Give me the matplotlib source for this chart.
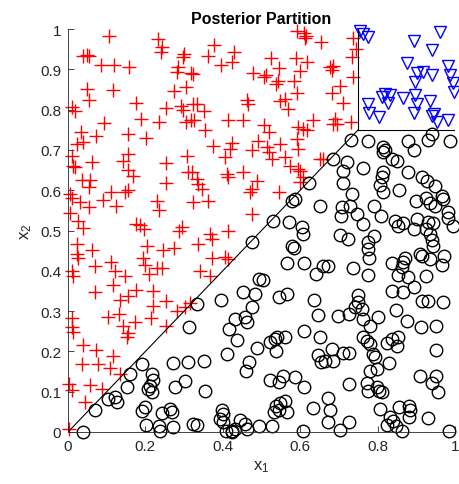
import numpy as np
from matplotlib import pyplot as plt

# red "+" points (region x2 > x1)
cross_x = [0.106, 0.232, 0.244, 0.240, 0.040, 0.048, 0.055, 0.300, 0.298, 0.085, 0.120, 0.158, 0.283, 0.282, 0.317,
           0.048, 0.117, 0.305, 0.275, 0.053, 0.176, 0.010, 0.018, 0.253, 0.291, 0.298, 0.324, 0.189, 0.093, 0.235,
           0.305, 0.317, 0.033, 0.156, 0.072, 0.202, 0.022, 0.040, 0.010, 0.156, 0.143, 0.063, 0.308, 0.253,
           0.014, 0.018, 0.156, 0.169, 0.311, 0.035, 0.057, 0.053, 0.253, 0.005, 0.010, 0.110, 0.147, 0.156, 0.090,
           0.031, 0.053, 0.123, 0.229, 0.235, 0.322, 0.005, 0.027, 0.038, 0.176, 0.186, 0.196, 0.288, 0.294, 0.022,
           0.061, 0.205, 0.246, 0.275, 0.022, 0.027, 0.193, 0.110, 0.070, 0.199, 0.121, 0.229, 0.242, 0.010, 0.012,
           0.210, 0.147, 0.117, 0.070, 0.176, 0.219, 0.156,
           0.134, 0.219, 0.253, 0.282, 0.302, 0.315, 0.104, 0.133, 0.143, 0.173, 0.214, 0.156, 0.152, 0.253, 0.010,
           0.010, 0.014, 0.038, 0.072, 0.115, 0.035, 0.078, 0.109, 0.134, 0.002, 0.010, 0.057, 0.087, 0.044, 0.003,
           0.593, 0.609, 0.615, 0.612, 0.655, 0.377, 0.363, 0.429, 0.423, 0.395, 0.525, 0.589, 0.617, 0.600, 0.546,
           0.324, 0.479, 0.506, 0.512, 0.537, 0.543, 0.584, 0.591, 0.334, 0.351, 0.462, 0.466, 0.548, 0.561, 0.569,
           0.326, 0.414, 0.453, 0.354, 0.506, 0.520, 0.632, 0.595, 0.608, 0.617, 0.593, 0.374, 0.423, 0.419, 0.406,
           0.492, 0.475, 0.513, 0.520, 0.526, 0.549, 0.561, 0.595, 0.651, 0.659,
           0.574, 0.595, 0.320, 0.333, 0.337, 0.345, 0.363, 0.410, 0.414, 0.453, 0.488, 0.475, 0.470, 0.546, 0.600,
           0.608, 0.600, 0.475, 0.414, 0.367, 0.371, 0.337, 0.371, 0.406, 0.414, 0.341, 0.367,
           0.737, 0.745, 0.733, 0.737, 0.677, 0.686, 0.681, 0.703, 0.681, 0.711, 0.690, 0.686, 0.694, 0.730]
cross_y = [0.983, 0.975, 0.955, 0.942, 0.933, 0.936, 0.934, 0.938, 0.930, 0.911, 0.911, 0.906, 0.906, 0.893, 0.890,
           0.851, 0.849, 0.855, 0.845, 0.824, 0.816, 0.806, 0.796, 0.803, 0.810, 0.799, 0.814, 0.777, 0.767, 0.770,
           0.770, 0.773, 0.744, 0.739, 0.734, 0.729, 0.715, 0.719, 0.686, 0.690, 0.673, 0.669, 0.686, 0.668,
           0.661, 0.657, 0.651, 0.636, 0.646, 0.626, 0.626, 0.607, 0.618, 0.591, 0.580, 0.596, 0.596, 0.601, 0.576,
           0.570, 0.558, 0.560, 0.574, 0.552, 0.570, 0.543, 0.524, 0.506, 0.516, 0.514, 0.504, 0.500, 0.508, 0.467,
           0.452, 0.461, 0.451, 0.456, 0.442, 0.431, 0.431, 0.422, 0.413, 0.414, 0.400, 0.406, 0.406, 0.400, 0.386,
           0.392, 0.386, 0.364, 0.348, 0.353, 0.351, 0.338,
           0.328, 0.313, 0.324, 0.301, 0.309, 0.319, 0.286, 0.294, 0.264, 0.272, 0.283, 0.245, 0.236, 0.264, 0.283,
           0.260, 0.247, 0.217, 0.203, 0.189, 0.169, 0.169, 0.159, 0.144, 0.119, 0.103, 0.117, 0.107, 0.074, 0.008,
           0.994, 0.990, 0.983, 0.978, 0.967, 0.961, 0.932, 0.942, 0.917, 0.911, 0.928, 0.928, 0.917, 0.897, 0.903,
           0.888, 0.890, 0.880, 0.887, 0.864, 0.872, 0.870, 0.840, 0.814, 0.796, 0.824, 0.814, 0.821, 0.826, 0.801,
           0.773, 0.773, 0.773, 0.749, 0.763, 0.744, 0.773, 0.756, 0.752, 0.749, 0.727, 0.710, 0.716, 0.702, 0.683,
           0.723, 0.700, 0.706, 0.694, 0.677, 0.715, 0.682, 0.702, 0.677, 0.677,
           0.661, 0.653, 0.644, 0.628, 0.615, 0.603, 0.574, 0.640, 0.632, 0.644, 0.624, 0.603, 0.596, 0.596, 0.648,
           0.632, 0.620, 0.541, 0.500, 0.491, 0.479, 0.467, 0.431, 0.434, 0.429, 0.400, 0.388,
           0.978, 0.950, 0.930, 0.882, 0.905, 0.909, 0.898, 0.859, 0.841, 0.816, 0.777, 0.764, 0.764, 0.768]

# black circles (region x2 < x1, x2 < 0.75)
circ_x = [0.190, 0.160, 0.216, 0.219, 0.212, 0.207, 0.216, 0.152, 0.276, 0.302, 0.272, 0.311, 0.313, 0.104, 0.121,
          0.127, 0.070, 0.199, 0.190, 0.242, 0.264, 0.268, 0.202, 0.236, 0.238, 0.272, 0.324, 0.038,
          0.622, 0.578, 0.587, 0.529, 0.475, 0.651, 0.572, 0.604, 0.606, 0.578, 0.584, 0.567, 0.611, 0.641, 0.660,
          0.494, 0.503, 0.453, 0.483, 0.546, 0.565, 0.636,
          0.395, 0.333, 0.475, 0.432, 0.457, 0.463, 0.417, 0.647, 0.437, 0.489, 0.522, 0.535, 0.539, 0.561, 0.537,
          0.610, 0.651, 0.410, 0.647, 0.655, 0.351, 0.468, 0.460, 0.522, 0.546, 0.556, 0.587, 0.610, 0.354, 0.537,
          0.545, 0.548, 0.532, 0.561, 0.566, 0.632, 0.334, 0.397, 0.401, 0.393, 0.401, 0.408, 0.423, 0.432, 0.425,
          0.444, 0.457, 0.463, 0.494, 0.526, 0.608,
          0.730, 0.776, 0.815, 0.819, 0.813, 0.836, 0.849, 0.879, 0.894, 0.931, 0.940, 0.987, 0.686,
          0.720, 0.711, 0.763, 0.815, 0.811, 0.806, 0.815, 0.879, 0.914, 0.927, 0.948, 0.711, 0.733, 0.856, 0.707,
          0.729, 0.705, 0.748, 0.761, 0.791, 0.808, 0.899, 0.925, 0.935, 0.948, 0.966, 0.970, 0.983, 0.983, 0.996,
          0.845, 0.853, 0.866, 0.901, 0.894, 0.925, 0.931, 0.944, 0.703, 0.724, 0.776, 0.791, 0.776, 0.778, 0.935,
          0.940, 0.944, 0.910, 0.914, 0.935, 0.972, 0.836, 0.865, 0.871, 0.862, 0.673, 0.737, 0.776, 0.853, 0.879,
          0.925, 0.966, 0.894, 0.836, 0.866, 0.750,
          0.750, 0.742, 0.759, 0.848, 0.914, 0.931, 0.970, 0.698, 0.727, 0.763, 0.780, 0.802, 0.877, 0.911, 0.951,
          0.763, 0.772, 0.780, 0.823, 0.836, 0.853, 0.849, 0.952, 0.681, 0.664, 0.686, 0.711, 0.727, 0.789, 0.793,
          0.830, 0.780, 0.799, 0.910, 0.952, 0.940, 0.957, 0.727, 0.772, 0.776, 0.799, 0.811, 0.804, 0.673, 0.677,
          0.673, 0.727, 0.703, 0.806, 0.856, 0.882, 0.885, 0.882, 0.832, 0.841, 0.823, 0.848, 0.862, 0.931, 0.985]
circ_y = [0.169, 0.144, 0.144, 0.129, 0.115, 0.107, 0.099, 0.112, 0.112, 0.127, 0.171, 0.173, 0.261, 0.082, 0.088,
          0.074, 0.055, 0.061, 0.051, 0.046, 0.057, 0.049, 0.017, 0.016, 0.003, 0.012, 0.020, 0.000,
          0.618, 0.574, 0.578, 0.524, 0.471, 0.562, 0.522, 0.508, 0.491, 0.461, 0.456, 0.419, 0.419, 0.392, 0.413,
          0.380, 0.376, 0.347, 0.342, 0.334, 0.342, 0.328,
          0.328, 0.317, 0.309, 0.280, 0.285, 0.272, 0.256, 0.291, 0.228, 0.208, 0.223, 0.231, 0.236, 0.236, 0.200,
          0.250, 0.236, 0.194, 0.192, 0.173, 0.175, 0.173, 0.152, 0.129, 0.123, 0.140, 0.136, 0.111, 0.101, 0.065,
          0.055, 0.073, 0.050, 0.078, 0.050, 0.060, 0.017, 0.055, 0.045, 0.032, 0.024, 0.003, 0.003, 0.007, 0.000,
          0.030, 0.020, 0.007, 0.016, 0.016, 0.003,
          0.725, 0.721, 0.708, 0.700, 0.694, 0.677, 0.673, 0.723, 0.700, 0.725, 0.739, 0.721, 0.677,
          0.669, 0.648, 0.654, 0.644, 0.632, 0.613, 0.595, 0.646, 0.632, 0.624, 0.611, 0.618, 0.591, 0.601, 0.558,
          0.560, 0.537, 0.541, 0.516, 0.562, 0.537, 0.574, 0.580, 0.568, 0.562, 0.586, 0.578, 0.547, 0.530, 0.512,
          0.524, 0.512, 0.519, 0.529, 0.504, 0.504, 0.520, 0.519, 0.489, 0.479, 0.472, 0.486, 0.454, 0.433, 0.491,
          0.477, 0.462, 0.442, 0.437, 0.429, 0.436, 0.419, 0.421, 0.431, 0.409, 0.411, 0.406, 0.390, 0.390, 0.384,
          0.388, 0.414, 0.359, 0.351, 0.347, 0.340,
          0.322, 0.309, 0.305, 0.303, 0.324, 0.326, 0.322, 0.289, 0.293, 0.280, 0.264, 0.286, 0.275, 0.261, 0.264,
          0.236, 0.227, 0.218, 0.220, 0.231, 0.235, 0.214, 0.203, 0.206, 0.177, 0.177, 0.195, 0.195, 0.194, 0.187,
          0.170, 0.151, 0.156, 0.140, 0.140, 0.121, 0.099, 0.119, 0.121, 0.102, 0.111, 0.099, 0.102, 0.084, 0.055,
          0.024, 0.024, 0.005, 0.057, 0.061, 0.065, 0.055, 0.038, 0.038, 0.027, 0.018, 0.016, 0.003, 0.035, 0.003]

# blue triangles (region x1 > 0.75, x2 > 0.75)
tri_x = [0.755, 0.776, 0.761, 0.961, 0.895, 0.940, 0.875, 0.983, 0.901, 0.918, 0.940, 0.897, 0.987, 0.996, 0.997,
         0.819, 0.832, 0.811, 0.828, 0.866, 0.897, 0.901, 0.935, 0.776, 0.778, 0.804, 0.895, 0.940, 0.945, 0.953,
         0.983]
tri_y = [0.996, 0.979, 0.988, 0.992, 0.971, 0.947, 0.915, 0.909, 0.890, 0.893, 0.885, 0.868, 0.885, 0.865, 0.843,
         0.839, 0.835, 0.832, 0.816, 0.830, 0.835, 0.814, 0.822, 0.814, 0.791, 0.781, 0.791, 0.785, 0.788, 0.768,
         0.773]

# partition boundary
split = 0.75

plt.rcParams['font.family'] = ['Liberation Sans', 'DejaVu Sans']
plt.rcParams['mathtext.fontset'] = 'custom'
plt.rcParams['mathtext.rm'] = 'Liberation Sans'
plt.rcParams['mathtext.it'] = 'Liberation Sans'

fig = plt.figure(figsize=(4.59, 4.85), dpi=100)
ax = fig.add_axes([68 / 459, 52 / 485, 387 / 459, 403 / 485])

ax.plot(cross_x, cross_y, '+', color='red', ms=10, mew=1.0, clip_on=False)
ax.plot(circ_x, circ_y, 'o', mfc='none', mec='black', ms=9, mew=1.0, clip_on=False)
ax.plot(tri_x, tri_y, 'v', mfc='none', mec='blue', ms=9, mew=1.0, clip_on=False)

ax.plot([0, split], [0, split], color='black', lw=0.8)
ax.plot([split, 1], [split, split], color='black', lw=0.8)
ax.plot([split, split], [split, 1], color='black', lw=0.8)

ax.set_xlim(0, 1)
ax.set_ylim(0, 1)
ax.set_xticks(np.arange(0, 1.01, 0.2))
ax.set_xticklabels(['0', '0.2', '0.4', '0.6', '0.8', '1'])
ax.set_yticks(np.arange(0, 1.01, 0.1))
ax.set_yticklabels(['0', '0.1', '0.2', '0.3', '0.4', '0.5', '0.6', '0.7', '0.8', '0.9', '1'])
ax.tick_params(direction='in', length=4, width=0.6, colors='#262626', labelsize=11, pad=5)

for side in ['top', 'right']:
    ax.spines[side].set_visible(False)
for side in ['left', 'bottom']:
    ax.spines[side].set_color('#262626')
    ax.spines[side].set_linewidth(0.6)

ax.set_xlabel('x$_1$', fontsize=12, color='#262626')
ax.set_ylabel('x$_2$', fontsize=12, color='#262626')
ax.set_title('Posterior Partition', fontsize=11.5, fontweight='bold', pad=4)

plt.savefig('out.png', dpi=100)
